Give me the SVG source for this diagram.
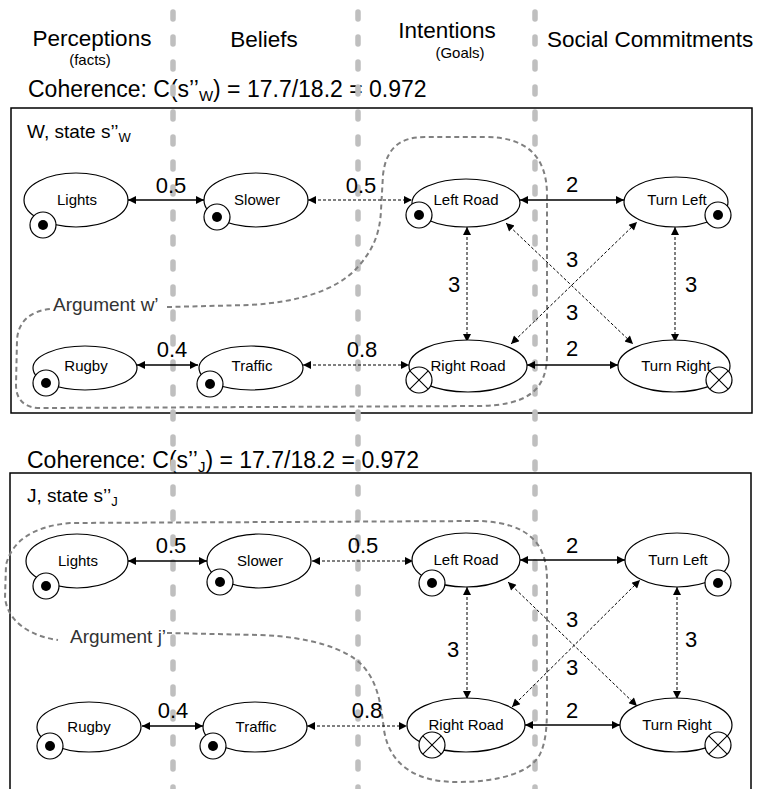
<svg xmlns="http://www.w3.org/2000/svg" width="759" height="789" viewBox="0 0 759 789">
<defs>
<style>
.t{font-family:"Liberation Sans",Arial,sans-serif;fill:#000}
.h{font-size:22.5px}
.c{font-size:23px}
.st{font-size:19px}
.s{font-size:15px}
.n{font-size:15px;text-anchor:middle}
.e{font-size:22px;text-anchor:middle}
.col{stroke:#bfbfbf;stroke-width:5.5;stroke-dasharray:7 18;stroke-linecap:round;fill:none}
.box{fill:none;stroke:#000;stroke-width:1.5}
.el{fill:#fff;stroke:#000;stroke-width:1.2}
.mk{fill:#fff;stroke:#000;stroke-width:1.2}
.x{stroke:#000;stroke-width:1.1}
.sol{stroke:#000;stroke-width:1.3;fill:none;marker-start:url(#arr);marker-end:url(#arr)}
.dsh{stroke:#000;stroke-width:1;stroke-dasharray:3 2;fill:none;marker-start:url(#arr);marker-end:url(#arr)}
.arg{stroke:#808080;stroke-width:2;stroke-dasharray:5 3.5;fill:none}
.al{font-size:19px;fill:#333}
</style>
<marker id="arr" viewBox="0 0 10 10" refX="10" refY="5" markerWidth="10" markerHeight="8" markerUnits="userSpaceOnUse" orient="auto-start-reverse">
<path d="M0,0 L10,5 L0,10 z" fill="#000"/>
</marker>
</defs>
<rect width="759" height="789" fill="#fff"/>

<g id="headers" class="t">
<text class="h" x="92" y="46" text-anchor="middle">Perceptions</text>
<text class="s" x="90" y="65" text-anchor="middle">(facts)</text>
<text class="h" x="264" y="47" text-anchor="middle">Beliefs</text>
<text class="h" x="447" y="38" text-anchor="middle">Intentions</text>
<text class="s" x="460" y="58" text-anchor="middle">(Goals)</text>
<text class="h" x="547" y="47">Social Commitments</text>
<text class="c" x="28" y="97">Coherence: C(s’’<tspan font-size="15" dy="4">W</tspan><tspan dy="-4">) = 17.7/18.2 = 0.972</tspan></text>
<text class="c" x="27" y="468" font-size="23.5">Coherence:  C(s’’<tspan font-size="15" dy="4">J</tspan><tspan dy="-4">) = 17.7/18.2 = 0.972</tspan></text>
</g>

<g id="boxes">
<rect class="box" x="11" y="108" width="741" height="305"/>
<text class="t st" x="27" y="138">W, state s’’<tspan font-size="13" dy="4">W</tspan></text>
<rect class="box" x="10" y="473" width="741" height="340"/>
<text class="t st" x="27" y="502">J, state s’’<tspan font-size="13" dy="4">J</tspan></text>
</g>

<g id="columns">
<line class="col" x1="173" y1="12" x2="173" y2="795"/>
<line class="col" x1="358" y1="12" x2="358" y2="795"/>
<line class="col" x1="535" y1="12" x2="535" y2="795"/>
</g>

<g id="arguments">
<path class="arg" d="M167,307 L250,305 C300,302 335,290 355,270 C372,252 380,235 381,210 L383,175 C386,148 400,137 425,137 L485,137 C525,137 547,155 547,195 L547,355 C547,392 525,405 480,406 L40,408 C25,408 16,400 16,385 L17,340 C18,322 30,311 50,309"/>
<text class="t al" x="53" y="311">Argument w’</text>
<path class="arg" d="M167,633 L260,635 C310,637 345,648 362,665 C378,682 381,705 384,730 C390,768 420,782 457,782 C500,782 533,772 541,752 C547,738 547,720 547,700 L547,580 C547,545 530,523 480,521 L70,523 C35,526 12,540 6,565 L5,598 C8,622 30,636 58,640"/>
<text class="t al" x="70" y="643">Argument j’</text>
</g>

<g id="connectors">
<line class="sol" x1="128" y1="200" x2="204" y2="200"/>
<line class="dsh" x1="308" y1="200" x2="412" y2="200"/>
<line class="sol" x1="520" y1="200" x2="624" y2="200"/>
<line class="dsh" x1="467" y1="227" x2="467" y2="342"/>
<line class="dsh" x1="675" y1="227" x2="675" y2="342"/>
<line class="dsh" x1="506" y1="223" x2="633" y2="344"/>
<line class="dsh" x1="511" y1="344" x2="637" y2="222"/>
<line class="sol" x1="137" y1="365" x2="198" y2="365"/>
<line class="dsh" x1="303" y1="365" x2="409" y2="365"/>
<line class="sol" x1="527" y1="365" x2="618" y2="365"/>

<line class="sol" x1="128" y1="561" x2="207" y2="561"/>
<line class="dsh" x1="312" y1="561" x2="413" y2="561"/>
<line class="sol" x1="520" y1="560" x2="625" y2="560"/>
<line class="dsh" x1="467" y1="587" x2="467" y2="699"/>
<line class="dsh" x1="677" y1="587" x2="677" y2="699"/>
<line class="dsh" x1="508" y1="582" x2="637" y2="706"/>
<line class="dsh" x1="512" y1="707" x2="640" y2="580"/>
<line class="sol" x1="142" y1="726" x2="203" y2="726"/>
<line class="dsh" x1="307" y1="726" x2="407" y2="726"/>
<line class="sol" x1="525" y1="725" x2="620" y2="725"/>
</g>

<g id="edge-labels" class="t">
<text class="e" x="171" y="193">0.5</text>
<text class="e" x="361" y="193">0.5</text>
<text class="e" x="572" y="192">2</text>
<text class="e" x="454" y="292">3</text>
<text class="e" x="691" y="292">3</text>
<text class="e" x="572" y="267">3</text>
<text class="e" x="572" y="320">3</text>
<text class="e" x="172" y="357">0.4</text>
<text class="e" x="362" y="357">0.8</text>
<text class="e" x="572" y="356">2</text>

<text class="e" x="171" y="553">0.5</text>
<text class="e" x="363" y="553">0.5</text>
<text class="e" x="572" y="553">2</text>
<text class="e" x="453" y="657">3</text>
<text class="e" x="691" y="647">3</text>
<text class="e" x="572" y="627">3</text>
<text class="e" x="572" y="675">3</text>
<text class="e" x="173" y="718">0.4</text>
<text class="e" x="367" y="718">0.8</text>
<text class="e" x="572" y="718">2</text>
</g>

<g id="w-lights"><ellipse class="el" cx="76" cy="200" rx="52" ry="27"/><text class="t n" x="77" y="205">Lights</text><circle class="mk" cx="43" cy="225" r="13"/><circle cx="43" cy="225" r="5"/></g>
<g id="w-slower"><ellipse class="el" cx="256" cy="200" rx="52" ry="27"/><text class="t n" x="257" y="205">Slower</text><circle class="mk" cx="217" cy="217" r="13"/><circle cx="217" cy="217" r="5"/></g>
<g id="w-leftroad"><ellipse class="el" cx="466" cy="203" rx="54" ry="24"/><text class="t n" x="466" y="205">Left Road</text><circle class="mk" cx="419" cy="215" r="13"/><circle cx="419" cy="215" r="5"/></g>
<g id="w-turnleft"><ellipse class="el" cx="676" cy="202" rx="52" ry="25"/><text class="t n" x="677" y="205">Turn Left</text><circle class="mk" cx="718" cy="215" r="13"/><circle cx="718" cy="215" r="5"/></g>
<g id="w-rugby"><ellipse class="el" cx="85" cy="368" rx="52" ry="22"/><text class="t n" x="86" y="371">Rugby</text><circle class="mk" cx="46" cy="383" r="13"/><circle cx="46" cy="383" r="5"/></g>
<g id="w-traffic"><ellipse class="el" cx="251" cy="368" rx="52" ry="22"/><text class="t n" x="252" y="371">Traffic</text><circle class="mk" cx="210" cy="384" r="13"/><circle cx="210" cy="384" r="5"/></g>
<g id="w-rightroad"><ellipse class="el" cx="468" cy="366" rx="59" ry="26"/><text class="t n" x="468" y="371">Right Road</text><circle class="mk" cx="419" cy="380" r="13"/><path class="x" d="M409.8,370.8 L428.2,389.2 M428.2,370.8 L409.8,389.2"/></g>
<g id="w-turnright"><ellipse class="el" cx="674" cy="366" rx="56" ry="26"/><text class="t n" x="676" y="371">Turn Right</text><circle class="mk" cx="719" cy="380" r="13"/><path class="x" d="M709.8,370.8 L728.2,389.2 M728.2,370.8 L709.8,389.2"/></g>

<g id="j-lights"><ellipse class="el" cx="77" cy="561" rx="51" ry="27"/><text class="t n" x="78" y="566">Lights</text><circle class="mk" cx="46" cy="586" r="13"/><circle cx="46" cy="586" r="5"/></g>
<g id="j-slower"><ellipse class="el" cx="259" cy="561" rx="52" ry="27"/><text class="t n" x="260" y="566">Slower</text><circle class="mk" cx="220" cy="582" r="13"/><circle cx="220" cy="582" r="5"/></g>
<g id="j-leftroad"><ellipse class="el" cx="466" cy="560" rx="54" ry="27"/><text class="t n" x="466" y="565">Left Road</text><circle class="mk" cx="432" cy="583" r="13"/><circle cx="432" cy="583" r="5"/></g>
<g id="j-turnleft"><ellipse class="el" cx="677" cy="560" rx="52" ry="27"/><text class="t n" x="678" y="565">Turn Left</text><circle class="mk" cx="718" cy="583" r="13"/><circle cx="718" cy="583" r="5"/></g>
<g id="j-rugby"><ellipse class="el" cx="89" cy="727" rx="52" ry="25"/><text class="t n" x="89" y="732">Rugby</text><circle class="mk" cx="50" cy="746" r="13"/><circle cx="50" cy="746" r="5"/></g>
<g id="j-traffic"><ellipse class="el" cx="255" cy="727" rx="52" ry="25"/><text class="t n" x="256" y="732">Traffic</text><circle class="mk" cx="213" cy="746" r="13"/><circle cx="213" cy="746" r="5"/></g>
<g id="j-rightroad"><ellipse class="el" cx="466" cy="725" rx="59" ry="27"/><text class="t n" x="466" y="730">Right Road</text><circle class="mk" cx="432" cy="745" r="13"/><path class="x" d="M422.8,735.8 L441.2,754.2 M441.2,735.8 L422.8,754.2"/></g>
<g id="j-turnright"><ellipse class="el" cx="676" cy="725" rx="56" ry="27"/><text class="t n" x="677" y="730">Turn Right</text><circle class="mk" cx="718" cy="745" r="13"/><path class="x" d="M708.8,735.8 L727.2,754.2 M727.2,735.8 L708.8,754.2"/></g>
</svg>
